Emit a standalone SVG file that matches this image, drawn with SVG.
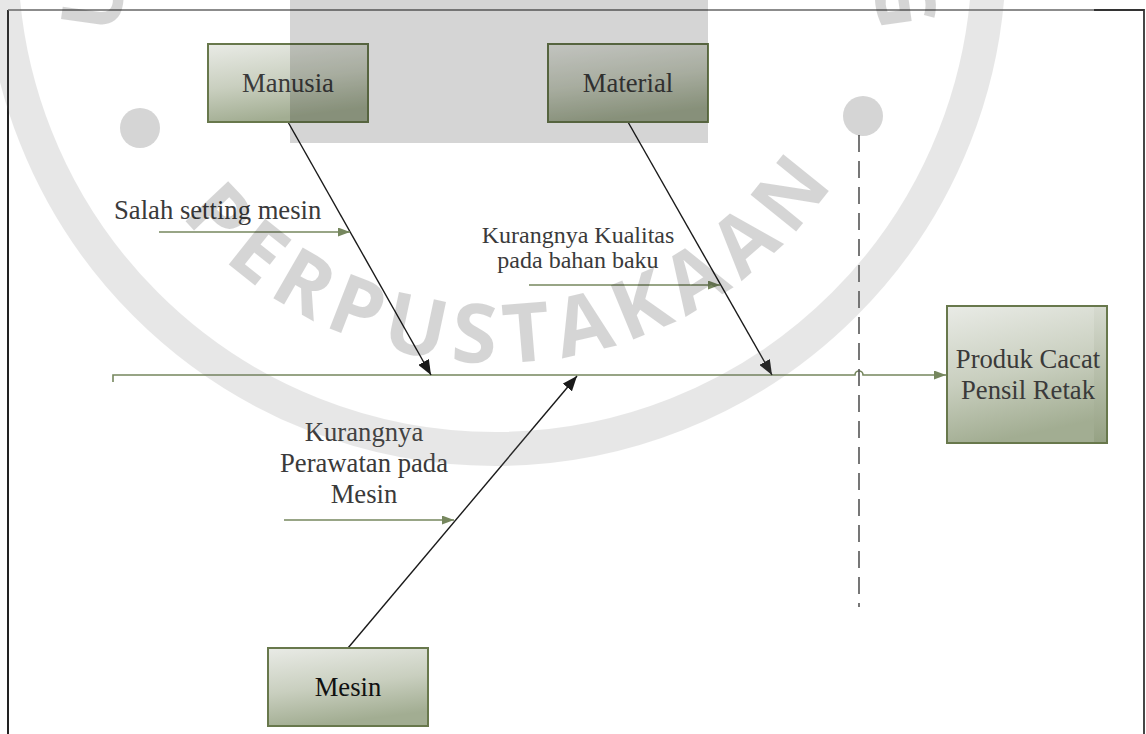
<svg xmlns="http://www.w3.org/2000/svg" width="1146" height="734" viewBox="0 0 1146 734">
  <defs>
    <style>
      .box { stroke: #68784c; stroke-width: 2; }
      .lbl { font-family: "Liberation Serif", "Times New Roman", serif; font-size: 26.67px; fill: #3a3a3a; text-anchor: middle; }
      .small { font-size: 24px; }
      .bone { stroke: #1a1a1a; stroke-width: 1.4; fill: none; marker-end: url(#headDark); }
      .cause { stroke: #76875e; stroke-width: 1.6; fill: none; marker-end: url(#headOlive); }
      .wm-letters { font-family: "Open Sans", "DejaVu Sans", sans-serif; font-weight: bold; font-size: 82px; }
    </style>
    <linearGradient id="boxFill" x1="0" y1="0" x2="0.25" y2="1">
      <stop offset="0" stop-color="#e9ebe6"/>
      <stop offset="0.55" stop-color="#c9cfbf"/>
      <stop offset="1" stop-color="#a2ad92"/>
    </linearGradient>
    <linearGradient id="stripFill" x1="0" y1="0" x2="0" y2="1">
      <stop offset="0" stop-color="#d6dacf"/>
      <stop offset="1" stop-color="#96a284"/>
    </linearGradient>
    <marker id="headDark" markerUnits="userSpaceOnUse" markerWidth="16" markerHeight="12" refX="15" refY="6" orient="auto">
      <path d="M0,0 L15,6 L0,12 z" fill="#1a1a1a"/>
    </marker>
    <marker id="headOlive" markerUnits="userSpaceOnUse" markerWidth="13" markerHeight="10" refX="12" refY="4.5" orient="auto">
      <path d="M0,0 L12,4.5 L0,9 z" fill="#76875e"/>
    </marker>
    <path id="wmArc" d="M 87 -45 A 408 408 0 0 0 903 -45"/>
  </defs>

  <rect x="0" y="0" width="1146" height="734" fill="#ffffff"/>

  <!-- page frame -->
  <path d="M8 734 L8 10" stroke="#222" stroke-width="2" fill="none"/>
  <path d="M8 10 L1094 10" stroke="#666" stroke-width="1.5" fill="none"/>
  <path d="M1094 10 L1144 10 L1144 734" stroke="#333" stroke-width="1.8" fill="none"/>

  <!-- connectors -->
  <g id="connectors">
    <path id="spine" d="M113 382 L113 375 L855 375 A4 4 0 0 1 863 375 L946 375" stroke="#76875e" stroke-width="1.6" fill="none" marker-end="url(#headOlive)"/>
    <line id="boundary" x1="859" y1="135" x2="859" y2="607" stroke="#555" stroke-width="1.6" stroke-dasharray="17 9"/>
    <path class="bone" d="M288 122 L431 375"/>
    <path class="bone" d="M628 122 L772 375"/>
    <path class="bone" d="M348 648 L577 376"/>
    <path class="cause" d="M159 232 L350 232"/>
    <path class="cause" d="M529 285 L720 285"/>
    <path class="cause" d="M284 520 L454 520"/>
  </g>

  <!-- category nodes -->
  <g id="manusia">
    <rect class="box" x="208" y="44" width="160" height="78" fill="url(#boxFill)"/>
    <text class="lbl" x="288" y="92">Manusia</text>
  </g>
  <g id="material">
    <rect class="box" x="548" y="44" width="160" height="78" fill="url(#boxFill)"/>
    <text class="lbl" x="628" y="92">Material</text>
  </g>
  <g id="mesin">
    <rect class="box" x="268" y="648" width="160" height="78" fill="url(#boxFill)"/>
    <text class="lbl" x="348" y="696" style="fill:#111">Mesin</text>
  </g>
  <g id="produk">
    <rect class="box" x="947" y="306" width="160" height="137" fill="url(#boxFill)"/>
    <rect x="1094" y="307" width="12" height="135" fill="url(#stripFill)"/>
    <text class="lbl" x="1028" y="368">Produk Cacat</text>
    <text class="lbl" x="1028" y="399">Pensil Retak</text>
  </g>

  <!-- cause labels -->
  <g id="cause-salah-setting">
    <text class="lbl" x="114" y="219" style="text-anchor:start">Salah setting mesin</text>
  </g>
  <g id="cause-kualitas">
    <text class="lbl small" x="578" y="243">Kurangnya Kualitas</text>
    <text class="lbl small" x="578" y="268">pada bahan baku</text>
  </g>
  <g id="cause-perawatan">
    <text class="lbl" x="364" y="441">Kurangnya</text>
    <text class="lbl" x="364" y="472">Perawatan pada</text>
    <text class="lbl" x="364" y="503">Mesin</text>
  </g>

  <!-- library stamp overlay -->
  <g id="stamp" opacity="0.16">
    <circle cx="495" cy="-45" r="494" fill="none" stroke="#707070" stroke-width="34"/>
    <rect x="290" y="0" width="418" height="143" fill="#000"/>
    <circle cx="140" cy="128" r="20" fill="#000"/>
    <circle cx="863" cy="116" r="20" fill="#000"/>
    <text class="wm-letters" fill="#000">
      <textPath href="#wmArc" startOffset="660" text-anchor="middle" textLength="755" lengthAdjust="spacing">PERPUSTAKAAN</textPath>
    </text>
    <text class="wm-letters" fill="#000" transform="translate(118 34) rotate(-82)">U</text>
    <text class="wm-letters" fill="#000" transform="translate(880 32) rotate(82)" text-anchor="end">G</text>
  </g>
</svg>
